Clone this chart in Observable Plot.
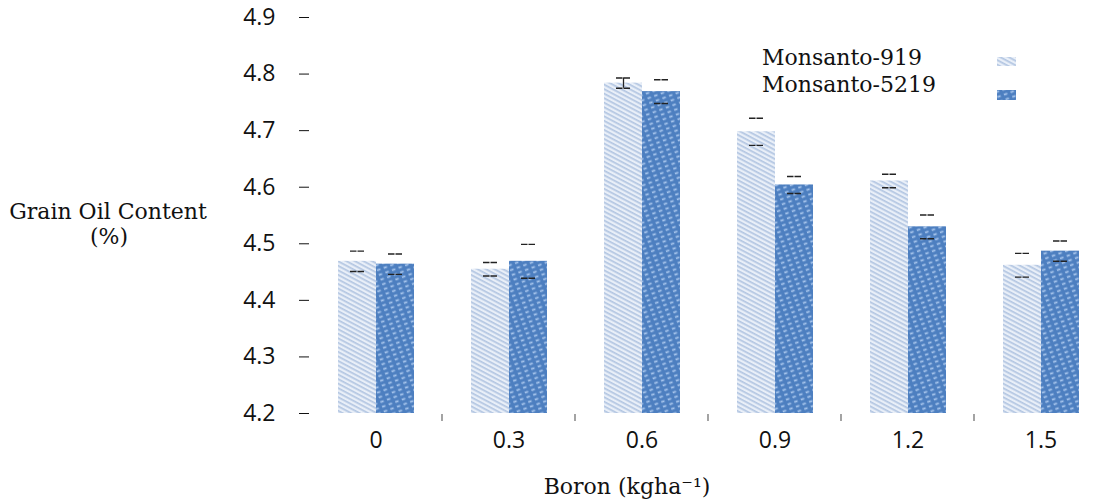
<!DOCTYPE html>
<html><head><meta charset="utf-8">
<script src="https://cdn.jsdelivr.net/npm/d3@7"></script>
<script src="https://cdn.jsdelivr.net/npm/@observablehq/plot@0.6"></script>
<style>
body{margin:0;background:#fff}
#chart{position:relative;width:1100px;height:501px}
[aria-label="y-axis tick"]{stroke:#9a9a9a}
</style>
</head><body><div id="chart"></div>
<script>
const boron = ["0", "0.3", "0.6", "0.9", "1.2", "1.5"];
const series = ["Monsanto-919", "Monsanto-5219"];
const v919 = [4.469, 4.455, 4.784, 4.698, 4.611, 4.462];
const v5219 = [4.464, 4.469, 4.769, 4.604, 4.530, 4.487];
const e919 = [0.018, 0.012, 0.009, 0.024, 0.012, 0.021];
const e5219 = [0.018, 0.030, 0.021, 0.015, 0.021, 0.018];
const yTicks = [4.2, 4.3, 4.4, 4.5, 4.6, 4.7, 4.8, 4.9];
const yLabel = ["Grain Oil Content", "(%)"];
const xLabel = "Boron (kgha⁻¹)";

const rows = boron.flatMap((b, i) => [
  {boron: b, series: series[0], value: v919[i], err: e919[i]},
  {boron: b, series: series[1], value: v5219[i], err: e5219[i]}
]);
const stemRows = rows.filter(d => d.boron === "0.6" && d.series === series[0]);

const plot = Plot.plot({
  width: 1100,
  height: 501,
  marginLeft: 307,
  marginRight: -8,
  marginTop: 17,
  marginBottom: 88,
  style: {fontFamily: "'Open Sans', sans-serif", fontSize: "23px", color: "#111", background: "#fff"},
  fx: {domain: boron, padding: 0, axis: "bottom", tickSize: 0, tickPadding: 18, label: null},
  x: {domain: series, paddingInner: 0, paddingOuter: 0.73, axis: null},
  y: {domain: [4.2, 4.9], ticks: yTicks, tickSize: 10, tickPadding: 24, label: null, tickFormat: d3.format(".1f")},
  color: {domain: series, range: ["url(#pat919)", "url(#pat5219)"]},
  marks: [
    Plot.barY(rows, {fx: "boron", x: "series", y1: 4.2, y2: "value", fill: "series"}),
    Plot.ruleX(stemRows, {fx: "boron", x: "series", y1: d => d.value - d.err, y2: d => d.value + d.err, stroke: "#222", strokeWidth: 1.3}),
    Plot.tickY(rows, {fx: "boron", x: "series", y: d => d.value + d.err, stroke: "#222", strokeWidth: 1.4, strokeDasharray: "6.5 1", insetLeft: 12, insetRight: 12}),
    Plot.tickY(rows, {fx: "boron", x: "series", y: d => d.value - d.err, stroke: "#222", strokeWidth: 1.4, strokeDasharray: "6.5 1", insetLeft: 12, insetRight: 12})
  ]
});
document.getElementById("chart").appendChild(plot);

const svg = d3.select(plot);
const defs = svg.insert("defs", ":first-child");
const p1 = defs.append("pattern").attr("id", "pat919").attr("patternUnits", "userSpaceOnUse")
  .attr("width", 7).attr("height", 4).attr("patternTransform", "rotate(28)");
p1.append("rect").attr("width", 7).attr("height", 4).attr("fill", "#e9eff8");
p1.append("rect").attr("width", 7).attr("height", 1.7).attr("fill", "#b3c6e2");
const p2 = defs.append("pattern").attr("id", "pat5219").attr("patternUnits", "userSpaceOnUse")
  .attr("width", 7).attr("height", 5).attr("patternTransform", "rotate(-20)");
p2.append("rect").attr("width", 7).attr("height", 5).attr("fill", "#4d7fc0");
p2.append("rect").attr("x", 1).attr("y", 1.5).attr("width", 3.5).attr("height", 1.8).attr("fill", "#a7c5ec");

// category separator ticks on the bottom, from the fx scale
const fx = plot.scale("fx");
const y = plot.scale("y");
const base = y.apply(4.2);
const seps = boron.slice(1).map(b => fx.apply(b)).concat([fx.apply(boron[boron.length - 1]) + fx.bandwidth]);
svg.append("g").selectAll("line").data(seps).join("line")
  .attr("x1", d => d).attr("x2", d => d).attr("y1", base + 1).attr("y2", base + 8)
  .attr("stroke", "#9a9a9a").attr("stroke-width", 1.8);

// legend
const lg = svg.append("g").attr("font-family", "'DejaVu Serif', serif").attr("font-size", 22)
  .attr("fill", "#111").attr("text-anchor", "start");
lg.append("text").attr("x", 762).attr("y", 65).text(series[0]);
lg.append("text").attr("x", 762).attr("y", 92).text(series[1]);
lg.append("rect").attr("x", 997).attr("y", 57).attr("width", 19).attr("height", 9).attr("fill", "url(#pat919)");
lg.append("rect").attr("x", 997).attr("y", 90).attr("width", 19).attr("height", 10).attr("fill", "url(#pat5219)");

// axis titles
const at = svg.append("g").attr("font-family", "'DejaVu Serif', serif").attr("font-size", 22).attr("fill", "#111").attr("text-anchor", "middle");
at.append("text").attr("x", 108).attr("y", 219).text(yLabel[0]);
at.append("text").attr("x", 109).attr("y", 244).text(yLabel[1]);
at.append("text").attr("x", 627).attr("y", 494).text(xLabel);
</script>
</body></html>
